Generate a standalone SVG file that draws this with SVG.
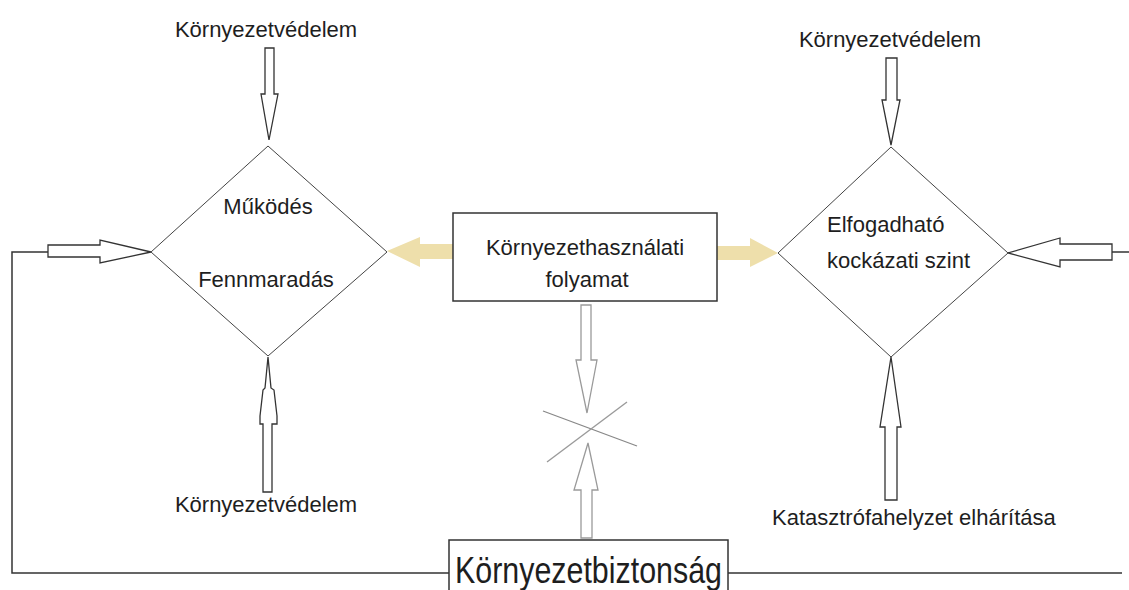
<svg xmlns="http://www.w3.org/2000/svg" width="1129" height="590" viewBox="0 0 1129 590">
<style>
.lbl{font-family:"Liberation Sans",Arial,sans-serif;font-size:22px;fill:#1e1e1e}
.dia{fill:#fff;stroke:#444;stroke-width:1}
.hol{fill:#fff;stroke:#333;stroke-width:1.3}
.holg{fill:#fff;stroke:#9a9a9a;stroke-width:1.3}
.yel{fill:#EEDFAB;stroke:none}
.ln{fill:none;stroke:#333;stroke-width:1.5}
</style>
<rect width="1129" height="590" fill="#fff"/>
<g id="connectors">
  <polyline class="ln" points="48,252 12,252 12,573 449,573"/>
  <line class="ln" x1="728" y1="573" x2="1122" y2="573"/>
  <line class="ln" x1="1112" y1="252" x2="1129" y2="252"/>
  <polygon class="hol" points="48,245 100,245 100,240 151,252 100,263 100,257 48,257"/>
  <polygon class="hol" points="1112,244 1060,244 1060,238 1008,253 1060,267 1060,260 1112,260"/>
  <polygon class="hol" points="265,48 274,48 274,94 278,94 269,140 261,94 265,94"/>
  <polygon class="hol" points="886,58 897,58 897,100 900,100 891,145 882,100 886,100"/>
  <polygon class="hol" points="268,357 271,388 274,390 277,416 277,424 272,424 272,492 263,492 263,424 260,424 260,416 263,390 265,388"/>
  <polygon class="hol" points="891,357 901,427 897,427 897,500 885,500 885,427 880,427"/>
  <polygon class="holg" points="581,305 591,305 591,360 597,360 587,413 576,360 581,360"/>
  <polygon class="holg" points="588,443 598,490 592,490 592,538 581,538 581,490 574,490"/>
  <line x1="543" y1="411" x2="637" y2="446" stroke="#888" stroke-width="1.3"/>
  <line x1="547" y1="462" x2="627" y2="402" stroke="#999" stroke-width="1.3"/>
  <polygon class="yel" points="453,244 420,244 420,237 387,251 420,267 420,259 453,259"/>
  <polygon class="yel" points="717,246 750,246 750,238 778,253 750,267 750,260 717,260"/>
</g>
<g id="label-top-left"><text class="lbl" x="266" y="37" text-anchor="middle">Környezetvédelem</text></g>
<g id="label-top-right"><text class="lbl" x="890" y="47" text-anchor="middle">Környezetvédelem</text></g>
<g id="label-bottom-left"><text class="lbl" x="266" y="512" text-anchor="middle">Környezetvédelem</text></g>
<g id="label-bottom-right"><text class="lbl" x="772" y="525">Katasztrófahelyzet elhárítása</text></g>
<g id="node-mukodes">
  <polygon class="dia" points="268,146 387,252 268,356 151,252"/>
  <text class="lbl" x="268" y="214" text-anchor="middle">Működés</text>
  <text class="lbl" x="266" y="287" text-anchor="middle">Fennmaradás</text>
</g>
<g id="node-kockazat">
  <polygon class="dia" points="891,147 1008,253 891,357 778,253"/>
  <text class="lbl" x="827" y="232">Elfogadható</text>
  <text class="lbl" x="827" y="268">kockázati szint</text>
</g>
<g id="node-folyamat">
  <rect x="453" y="213" width="264" height="88" fill="#fff" stroke="#333" stroke-width="1.5"/>
  <text class="lbl" x="585" y="255" text-anchor="middle">Környezethasználati</text>
  <text class="lbl" x="587" y="287" text-anchor="middle">folyamat</text>
</g>
<g id="node-biztonsag">
  <rect x="449" y="540" width="279" height="60" fill="#fff" stroke="#333" stroke-width="1.5"/>
  <text class="lbl" x="455" y="583" style="font-size:37px" textLength="267" lengthAdjust="spacingAndGlyphs">Környezetbiztonság</text>
</g>
</svg>
